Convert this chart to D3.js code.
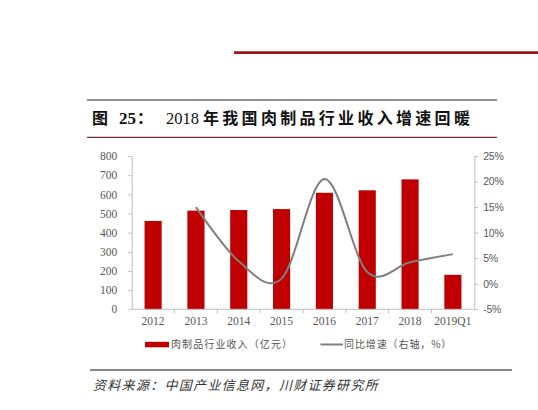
<!DOCTYPE html>
<html>
<head>
<meta charset="utf-8">
<script src="https://cdn.jsdelivr.net/npm/d3@7"></script>
<style>
  body { margin: 0; background: #fff; }
  svg { display: block; }
  .axis path, .axis line { stroke: #bfbfbf; }
  .axis text { fill: #595959; }
</style>
</head>
<body>
<svg width="538" height="410"></svg>
<script>
'use strict';

// Chart data.
const categories = ['2012', '2013', '2014', '2015', '2016', '2017', '2018', '2019Q1'];
const revenue = [461, 515, 518, 523, 608, 621, 678, 180];          // 亿元
const growth = [null, 15.0, 4.4, 1.0, 20.5, 2.3, 4.2, 5.8];       // %
const leftTicks = [0, 100, 200, 300, 400, 500, 600, 700, 800];
const rightTicks = [-5, 0, 5, 10, 15, 20, 25];

const svg = d3.select('svg');

const plot = { left: 131.7, right: 474.3, top: 156, bottom: 309.3 };

// Header decorations.
svg.append('line')
  .attr('x1', 234).attr('x2', 538).attr('y1', 52.7).attr('y2', 52.7)
  .attr('stroke', '#a5121e').attr('stroke-width', 2.8);

svg.append('line')
  .attr('x1', 87).attr('x2', 497).attr('y1', 100).attr('y2', 100)
  .attr('stroke', '#222').attr('stroke-width', 1.2);
svg.append('line')
  .attr('x1', 87).attr('x2', 497).attr('y1', 137.3).attr('y2', 137.3)
  .attr('stroke', '#7a2a2a').attr('stroke-width', 1.2);

const title = svg.append('text')
  .attr('y', 124)
  .attr('font-weight', 'bold')
  .attr('font-size', 16)
  .attr('fill', '#111');
title.append('tspan').attr('x', 92).attr('font-family', 'Noto Sans CJK SC').text('图');
title.append('tspan').attr('x', 119).attr('font-family', 'Liberation Serif').attr('font-size', 17).text('25');
title.append('tspan').attr('x', 137).attr('font-family', 'Noto Sans CJK SC').text('：');
title.append('tspan').attr('x', 166).attr('font-family', 'Liberation Serif').attr('font-size', 16.5).attr('font-weight', 'normal').text('2018');
title.append('tspan').attr('x', 203).attr('font-family', 'Noto Sans CJK SC')
  .attr('letter-spacing', 3.3).text('年我国肉制品行业收入增速回暖');

// Scales.
const x = d3.scaleBand()
  .domain(categories)
  .range([plot.left, plot.right])
  .paddingInner(0.6)
  .paddingOuter(0.3);

const yLeft = d3.scaleLinear().domain([0, 800]).range([plot.bottom, plot.top]);
const yRight = d3.scaleLinear().domain([-5, 25]).range([plot.bottom, plot.top]);

// Bars.
svg.append('g')
  .selectAll('rect')
  .data(categories)
  .join('rect')
  .attr('x', d => x(d))
  .attr('width', x.bandwidth())
  .attr('y', (d, i) => yLeft(revenue[i]))
  .attr('height', (d, i) => yLeft(0) - yLeft(revenue[i]))
  .attr('fill', '#c00000');

// Axes.
const leftAxis = svg.append('g')
  .attr('class', 'axis')
  .attr('transform', `translate(${plot.left},0)`)
  .call(d3.axisLeft(yLeft).tickValues(leftTicks).tickSize(3.5).tickPadding(11).tickSizeOuter(0));
leftAxis.selectAll('text').attr('font-family', 'Liberation Serif').attr('font-size', 11.5);

const rightAxis = svg.append('g')
  .attr('class', 'axis')
  .attr('transform', `translate(${plot.right},0)`)
  .call(d3.axisRight(yRight).tickValues(rightTicks).tickFormat(d => d + '%')
    .tickSize(4).tickPadding(5).tickSizeOuter(0));
rightAxis.selectAll('text').attr('font-family', 'Liberation Sans').attr('font-size', 10.5)
  .attr('letter-spacing', -0.3);

const bottomAxis = svg.append('g')
  .attr('class', 'axis')
  .attr('transform', `translate(0,${plot.bottom})`)
  .call(d3.axisBottom(x).tickSize(0).tickPadding(8).tickSizeOuter(0));
bottomAxis.selectAll('text').attr('font-family', 'Liberation Serif').attr('font-size', 11.5);
bottomAxis.select('path.domain').attr('d', `M${plot.left},0H${plot.right}`);

// Tick marks between categories.
const gap = x.step() * x.paddingInner() / 2;
bottomAxis.selectAll('line.sep')
  .data(categories.slice(1))
  .join('line')
  .attr('class', 'sep')
  .attr('x1', d => x(d) - gap)
  .attr('x2', d => x(d) - gap)
  .attr('y1', 0)
  .attr('y2', 4)
  .attr('stroke', '#bfbfbf');

// Growth line (smoothed).
const line = d3.line()
  .defined(d => d.v !== null)
  .x(d => x(d.c) + x.bandwidth() / 2)
  .y(d => yRight(d.v))
  .curve(d3.curveCardinal.tension(0));

svg.append('path')
  .datum(categories.map((c, i) => ({ c, v: growth[i] })).filter(d => d.v !== null))
  .attr('d', line)
  .attr('fill', 'none')
  .attr('stroke', '#7f7f7f')
  .attr('stroke-width', 2);

// Legend.
const legend = svg.append('g').attr('font-family', 'Noto Sans CJK SC').attr('font-size', 10)
  .attr('fill', '#555');
legend.append('rect')
  .attr('x', 145).attr('y', 341.8).attr('width', 24).attr('height', 5.5)
  .attr('fill', '#c00000');
legend.append('text')
  .attr('x', 171).attr('y', 348)
  .attr('letter-spacing', 1.1)
  .text('肉制品行业收入（亿元）');
legend.append('line')
  .attr('x1', 320.5).attr('x2', 343).attr('y1', 344.5).attr('y2', 344.5)
  .attr('stroke', '#7f7f7f').attr('stroke-width', 2);
legend.append('text')
  .attr('x', 344).attr('y', 348)
  .attr('letter-spacing', 0.9)
  .text('同比增速（右轴，%）');

// Source note.
svg.append('line')
  .attr('x1', 90).attr('x2', 512).attr('y1', 370).attr('y2', 370)
  .attr('stroke', '#111').attr('stroke-width', 1.2);
svg.append('text')
  .attr('x', 93).attr('y', 390)
  .attr('font-family', 'Noto Sans CJK SC')
  .attr('font-style', 'italic')
  .attr('font-size', 13)
  .attr('letter-spacing', 1.3)
  .attr('fill', '#333')
  .text('资料来源：中国产业信息网，川财证券研究所');
</script>
</body>
</html>
